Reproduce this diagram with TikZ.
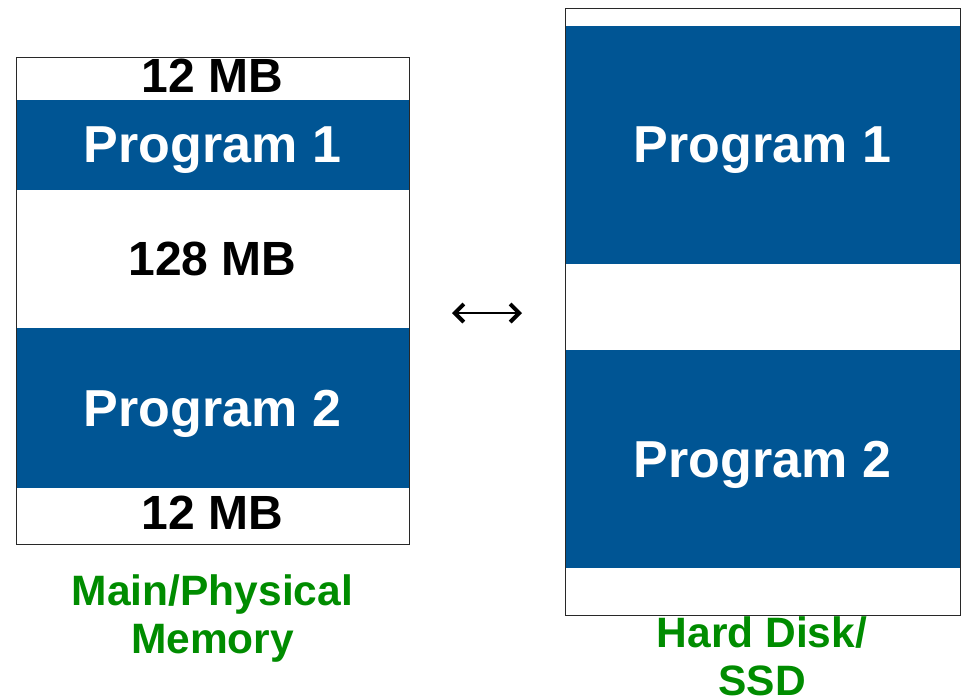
\documentclass[tikz,border=0pt]{standalone}
\usepackage{fontspec}
\setmainfont{Liberation Sans}
\usetikzlibrary{arrows.meta}
\definecolor{progblue}{RGB}{0,85,148}
\definecolor{labgreen}{RGB}{0,140,0}
\definecolor{edgegray}{RGB}{40,40,40}
\begin{document}
\begin{tikzpicture}[x=1pt,y=-1pt,
  band/.style={anchor=north west,inner sep=0pt,outer sep=0pt,text depth=0pt},
  prog/.style={band,fill=progblue,text=white,font=\fontsize{52}{52}\selectfont\bfseries},
  free/.style={band,fill=white,text=black,font=\fontsize{48}{48}\selectfont\bfseries},
  raised/.style={text depth=6pt},
  outline/.style={draw=edgegray,line width=1pt,fill=none},
  caption/.style={text=labgreen,align=center,anchor=base,inner sep=0pt,font=\fontsize{42.5}{48}\selectfont\bfseries},
  swap/.style={line width=2pt,{Straight Barb[length=9pt,width=18pt,line width=4pt]}-{Straight Barb[length=9pt,width=18pt,line width=4pt]}}
]
\useasboundingbox (0,0) rectangle (961,697);
% Main memory
\node[free,raised,minimum width=393pt,minimum height=43pt] (m1) at (16,57) {12 MB};
\node[prog,minimum width=393pt,minimum height=90pt] (m2) at (16,100) {Program 1};
\node[free,minimum width=393pt,minimum height=138pt] (m3) at (16,190) {128 MB};
\node[prog,minimum width=393pt,minimum height=160pt] (m4) at (16,328) {Program 2};
\node[free,raised,minimum width=393pt,minimum height=56pt] (m5) at (16,488) {12 MB};
\node[outline,anchor=north west,inner sep=0pt,minimum width=393pt,minimum height=487pt] (mem) at (16,57) {};
\node[caption] (memlab) at (212.5,653) {Main/Physical\\Memory};
% Hard disk
\node[free,minimum width=395pt,minimum height=18pt] (d1) at (565,8) {};
\node[prog,minimum width=395pt,minimum height=238pt] (d2) at (565,26) {Program 1};
\node[free,minimum width=395pt,minimum height=86pt] (d3) at (565,264) {};
\node[prog,minimum width=395pt,minimum height=218pt] (d4) at (565,350) {Program 2};
\node[free,minimum width=395pt,minimum height=47pt] (d5) at (565,568) {};
\node[outline,anchor=north west,inner sep=0pt,minimum width=395pt,minimum height=607pt] (disk) at (565,8) {};
\node[caption] (disklab) at (762,695) {Hard Disk/\\SSD};
% swap arrow
\coordinate (al) at (452,313);
\coordinate (ar) at (522,313);
\draw[swap] (al) -- (ar);
\end{tikzpicture}
\end{document}
